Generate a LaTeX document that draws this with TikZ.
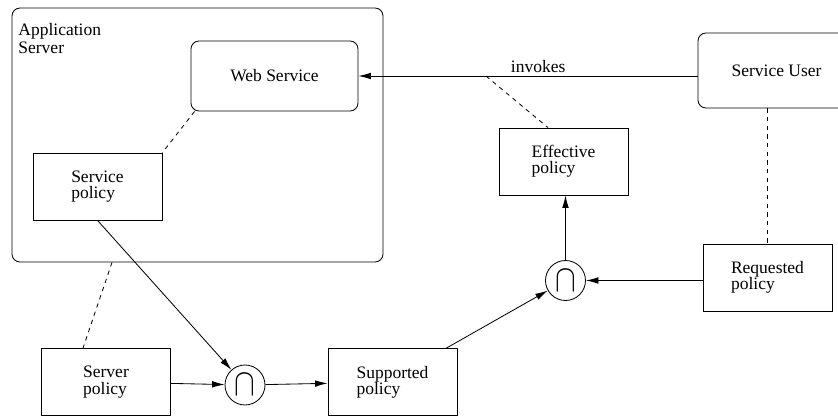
\documentclass[tikz,border=0pt]{standalone}
\usepackage{fontspec}
\setmainfont{Liberation Serif}
\usetikzlibrary{arrows.meta}

\begin{document}
\begin{tikzpicture} [x=0.6pt, y=-0.6pt, line width=0.5pt,
  font=\fontsize{10.5}{9.8}\selectfont,
  box/.style={draw, align=left, minimum width=77.4pt, minimum height=40.2pt},
  rbox/.style={draw, rounded corners=4.8pt, minimum height=42pt},
  capnode/.style={draw, circle, minimum size=24pt, inner sep=0pt},
  arr/.style={-{Latex[length=7.5pt,width=4pt]}},
  link/.style={dash pattern=on 2.6pt off 2.6pt}]
\useasboundingbox (0,0) rectangle (838,416);

\node[draw, rounded corners=4.8pt, minimum width=222.6pt, minimum height=152.4pt] (appserver) at (197.5,135) {};
\node[anchor=north west, align=left, inner sep=0pt, font=\fontsize{10.5}{11}\selectfont] (applabel) at (18,23) {Application\\Server};

\node[rbox, minimum width=100.2pt] (websvc) at (274.5,76) {Web Service};
\node[rbox, minimum width=94.2pt, minimum height=45pt] (svcuser) at (776.5,70.5) {Service User};

\node[box] (svcpolicy) at (97.5,186.5) {Service\\policy};
\node[box] (effpolicy) at (563.5,161.5) {Effective\\policy};
\node[box] (reqpolicy) at (767.5,277.5) {Requested\\policy};
\node[box] (srvpolicy) at (106,382) {Server\\policy};
\node[box] (suppolicy) at (392.5,382) {Supported\\policy};

\node[capnode] (capA) at (245,385) {\scalebox{1.7}[2.1]{$\cap$}};
\node[capnode] (capB) at (565.5,280.5) {\scalebox{1.7}[2.1]{$\cap$}};

\draw[arr] (svcuser.west |- websvc.east) -- coordinate[pos=0.624] (tap) node[pos=0.47, above, inner sep=2pt] {invokes} (websvc.east);
\draw[link] (tap) -- ([xshift=-9.3pt]effpolicy.north);
\draw[link] ([xshift=2.4pt]websvc.south west) -- (svcpolicy.north east);
\draw[link] (reqpolicy.north |- svcuser.south) -- (reqpolicy.north);
\draw[link] ([xshift=3.6pt]srvpolicy.north |- appserver.south) -- ([xshift=-13.8pt]srvpolicy.north);

\draw[arr] (svcpolicy.south) -- (capA);
\draw[arr] (srvpolicy) -- (capA);
\draw[arr] (capA) -- (suppolicy);
\draw[arr] ([xshift=-6.6pt]suppolicy.north east) -- (capB);
\draw[arr] (reqpolicy.west |- capB) -- (capB);
\draw[arr] (capB) -- (capB |- effpolicy.south);

\end{tikzpicture}
\end{document}
